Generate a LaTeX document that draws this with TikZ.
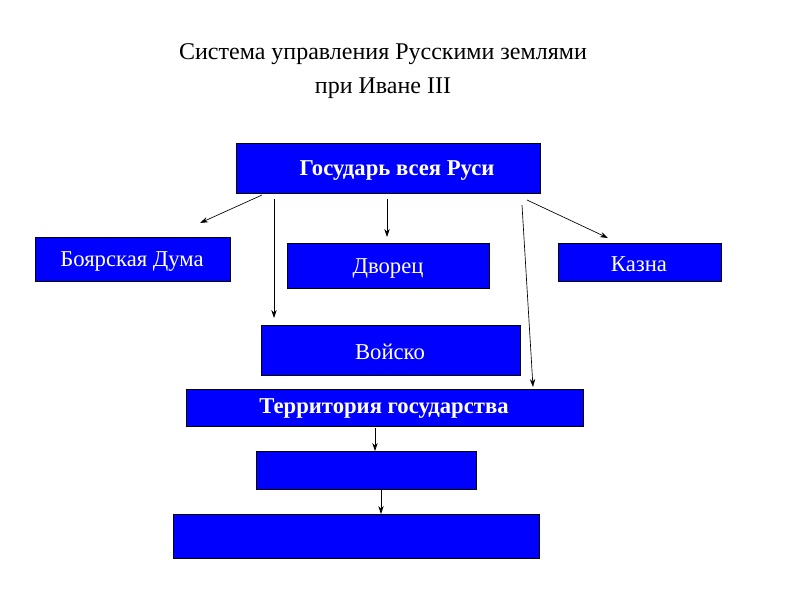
\documentclass[tikz,border=0pt]{standalone}
\usepackage{fontspec}
\setmainfont{Liberation Serif}
\usetikzlibrary{arrows.meta}
\begin{document}
\begin{tikzpicture}[x=0.75pt,y=-0.75pt,
 bx/.style={draw=black,line width=0.6pt,fill={rgb,255:red,0;green,0;blue,255},text=white,font=\fontsize{17}{20}\selectfont},
 ar/.style={-{Stealth[length=6pt,width=4pt]},line width=0.5pt}]
\useasboundingbox (0,0) rectangle (800,600);
\node[align=center,font=\fontsize{18}{25}\selectfont] (t) at (383,71) {Система управления Русскими землями\\при Иване III};
\draw[bx] (236,143) rectangle (540,193); \node[text=white,font=\fontsize{17}{20}\selectfont\bfseries] (g) at (397,171) {Государь всея Руси};
\draw[bx] (35,237) rectangle (230,281); \node[text=white,font=\fontsize{17}{20}\selectfont] (b) at (132,262) {Боярская Дума};
\draw[bx] (287,243) rectangle (489,288); \node[text=white,font=\fontsize{17}{20}\selectfont] (d) at (388,268) {Дворец};
\draw[bx] (558,243) rectangle (721,281); \node[text=white,font=\fontsize{17}{20}\selectfont] (k) at (639,264) {Казна};
\draw[bx] (261,325) rectangle (520,375); \node[text=white,font=\fontsize{17}{20}\selectfont] (v) at (390,352) {Войско};
\draw[bx] (186,389) rectangle (583,426); \node[text=white,font=\fontsize{17}{20}\selectfont\bfseries] (te) at (384,409) {Территория государства};
\draw[bx] (256,451) rectangle (476,489); \coordinate (e1) at (366,470);
\draw[bx] (173,514) rectangle (539,558); \coordinate (e2) at (356,536);
\coordinate (a1) at (262,195); \coordinate (a1e) at (200,223);
\coordinate (a2) at (387,199); \coordinate (a2e) at (387,237);
\coordinate (a3) at (274,199); \coordinate (a3e) at (274,318);
\coordinate (a4) at (527,200); \coordinate (a4e) at (608,238);
\coordinate (a5) at (522,205); \coordinate (a5e) at (533,387);
\coordinate (a6) at (375,428); \coordinate (a6e) at (375,451);
\coordinate (a7) at (381,490); \coordinate (a7e) at (381,514);
\foreach \s/\e in {a1/a1e,a2/a2e,a3/a3e,a4/a4e,a5/a5e,a6/a6e,a7/a7e} \draw[ar] (\s) -- (\e);
\end{tikzpicture}
\end{document}
